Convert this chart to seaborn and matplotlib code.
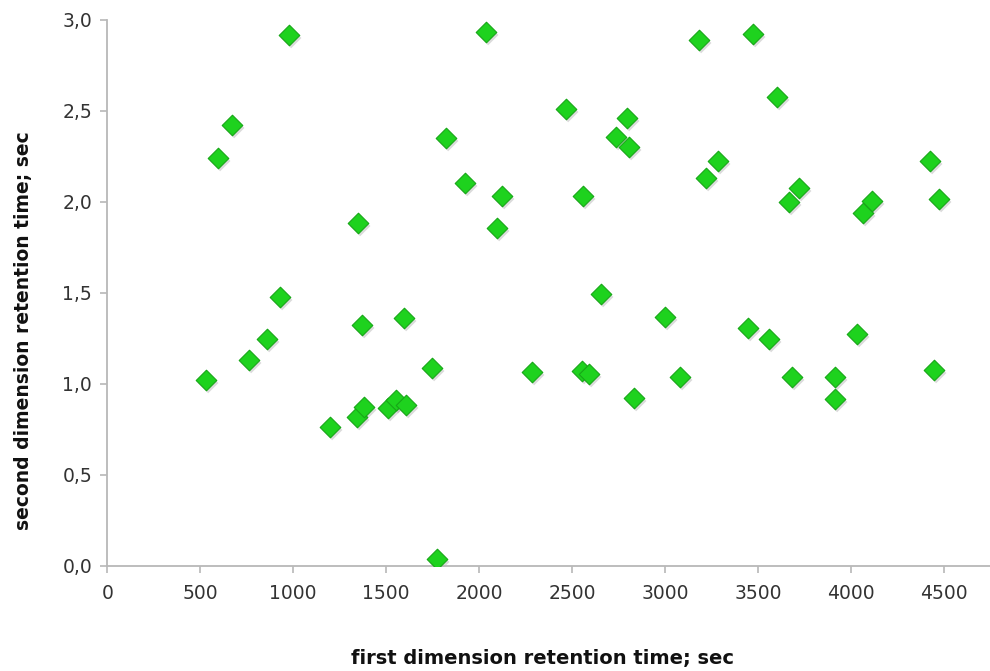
import matplotlib
matplotlib.use("Agg")
import matplotlib.pyplot as plt
import matplotlib.transforms as mtransforms
import seaborn as sns
import pandas as pd

first_dim = [531, 595, 671, 762, 857, 929, 976, 1198, 1341, 1348, 1368, 1382,
             1511, 1551, 1608, 1596, 1746, 1772, 1820, 1922, 2035, 2098, 2124,
             2283, 2469, 2555, 2560, 2592, 2654, 2736, 2793, 2804, 2833, 3000,
             3082, 3184, 3220, 3286, 3444, 3471, 3557, 3600, 3666, 3684, 3722,
             3915, 3915, 4030, 4064, 4113, 4426, 4446, 4475]
second_dim = [1.020, 2.242, 2.420, 1.131, 1.246, 1.475, 2.918, 0.764, 0.819, 1.881,
              1.323, 0.870, 0.865, 0.910, 0.883, 1.363, 1.085, 0.035, 2.348, 2.101,
              2.934, 1.854, 2.033, 1.066, 2.509, 1.070, 2.033, 1.053, 1.493, 2.357,
              2.462, 2.300, 0.923, 1.368, 1.038, 2.888, 2.129, 2.224, 1.304, 2.920,
              1.246, 2.574, 1.997, 1.038, 2.074, 1.038, 0.914, 1.273, 1.936, 2.005,
              2.224, 1.075, 2.013]

x_ticks = [0, 500, 1000, 1500, 2000, 2500, 3000, 3500, 4000, 4500]
y_ticks = [0.0, 0.5, 1.0, 1.5, 2.0, 2.5, 3.0]
x_label = "first dimension retention time; sec"
y_label = "second dimension retention time; sec"

df = pd.DataFrame({"first": first_dim, "second": second_dim})

sns.set_style("white")
plt.rcParams["font.family"] = ["DejaVu Sans"]

fig = plt.figure(figsize=(9.9, 6.71), dpi=100)
ax = fig.add_axes([0.1084, 0.1567, 0.8916, 0.8140])

# soft shadow
sns.scatterplot(data=df, x="first", y="second", marker="D", s=110,
                color="#9a9a9a", alpha=0.35, linewidth=0, ax=ax, zorder=2,
                legend=False)
for coll in ax.collections:
    coll.set_transform(coll.get_transform() +
                       mtransforms.ScaledTranslation(1.2/72, -1.8/72, fig.dpi_scale_trans))
sns.scatterplot(data=df, x="first", y="second", marker="D", s=110,
                color="#1ed21e", edgecolor="#17a617", linewidth=0.8, ax=ax,
                zorder=3, legend=False)

ax.set_xlim(0, 4748)
ax.set_ylim(0, 3.0)
ax.set_xticks(x_ticks)
ax.set_yticks(y_ticks)
ax.set_xticklabels([str(v) for v in x_ticks])
ax.set_yticklabels([f"{v:.1f}".replace(".", ",") for v in y_ticks])

for side in ["top", "right"]:
    ax.spines[side].set_visible(False)
for side in ["left", "bottom"]:
    ax.spines[side].set_color("#b8b8b8")
    ax.spines[side].set_linewidth(1.3)
ax.tick_params(axis="both", which="major", direction="out", length=5,
               width=1.2, color="#b8b8b8", labelsize=13.5, labelcolor="#333333",
               pad=6)
ax.tick_params(axis="x", bottom=True, pad=8)
ax.tick_params(axis="y", left=True)

ax.set_xlabel(x_label, fontsize=14, fontweight="bold", color="#111111")
ax.xaxis.set_label_coords(0.493, -0.152)
ax.set_ylabel(y_label, fontsize=13.5, fontweight="bold", color="#111111")
ax.yaxis.set_label_coords(-0.084, 0.431)

fig.savefig("out.png", dpi=100)
